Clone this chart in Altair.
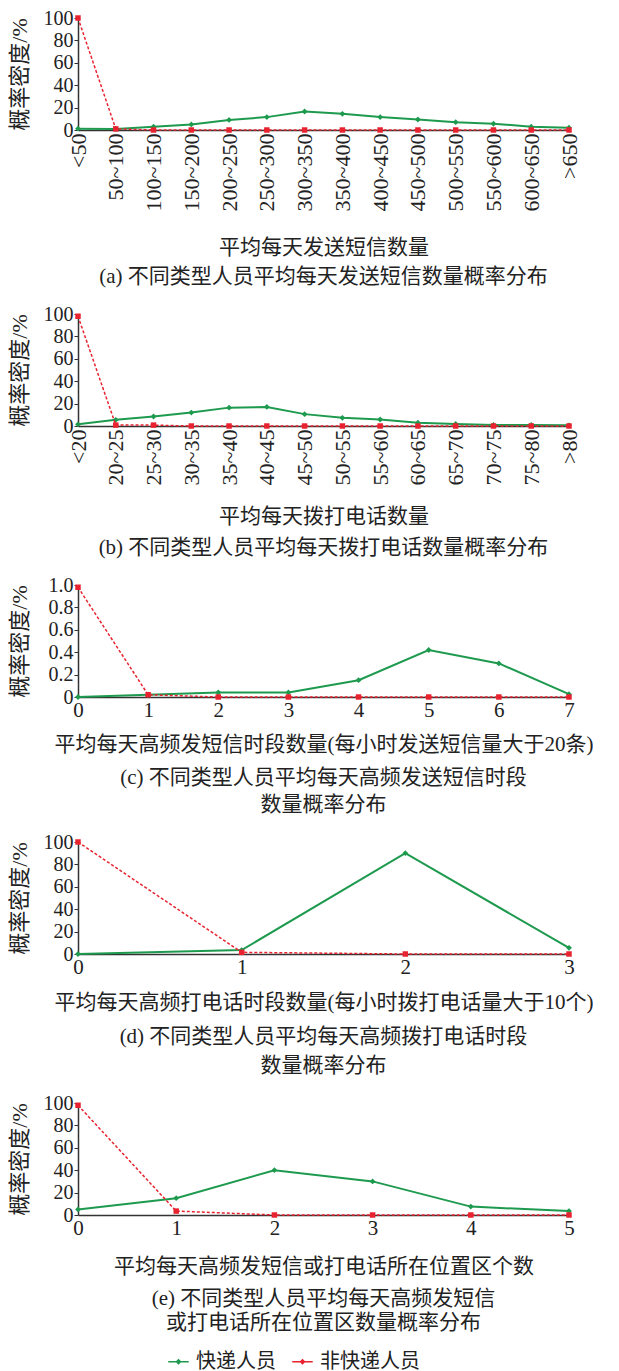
import altair as alt
import pandas as pd

SERIES = ["快递人员", "非快递人员"]
GREEN = "#1e9a4f"
RED = "#e8232f"
FONT = "Liberation Serif, Noto Sans CJK SC, serif"
TXT = "#222222"

# (a)
a_cats = ["<50", "50~100", "100~150", "150~200", "200~250", "250~300", "300~350",
          "350~400", "400~450", "450~500", "500~550", "550~600", "600~650", ">650"]
a_express = [1.2, 1.0, 3.0, 5.0, 9.0, 11.5, 16.5, 14.4, 11.5, 9.4, 7.0, 5.6, 3.0, 2.0]
a_other = [100, 1.0, 0, 0, 0, 0, 0, 0, 0, 0, 0, 0, 0, 0]

# (b)
b_cats = ["<20", "20~25", "25~30", "30~35", "35~40", "40~45", "45~50",
          "50~55", "55~60", "60~65", "65~70", "70~75", "75~80", ">80"]
b_express = [1.5, 5.5, 8.5, 12.0, 16.4, 17.0, 10.6, 7.3, 5.8, 3.0, 1.8, 1.0, 1.0, 0.6]
b_other = [98, 0.8, 0.8, 0, 0, 0, 0, 0, 0, 0, 0, 0, 0, 0]

# (c)
c_x = [0, 1, 2, 3, 4, 5, 6, 7]
c_express = [0.0, 0.02, 0.04, 0.04, 0.15, 0.42, 0.30, 0.025]
c_other = [0.98, 0.02, 0, 0, 0, 0, 0, 0]

# (d)
d_x = [0, 1, 2, 3]
d_express = [0.0, 3.5, 90.0, 5.5]
d_other = [100, 1.5, 0, 0]

# (e)
e_x = [0, 1, 2, 3, 4, 5]
e_express = [5.0, 15.0, 40.0, 30.0, 7.5, 3.5]
e_other = [98, 3.5, 0, 0, 0, 0]

y_pct = [0, 20, 40, 60, 80, 100]
y_frac = [0, 0.2, 0.4, 0.6, 0.8, 1.0]

titles_x = {
    "a": "平均每天发送短信数量",
    "b": "平均每天拨打电话数量",
    "c": "平均每天高频发短信时段数量(每小时发送短信量大于20条)",
    "d": "平均每天高频打电话时段数量(每小时拨打电话量大于10个)",
    "e": "平均每天高频发短信或打电话所在位置区个数",
}
captions = {
    "a": ["(a) 不同类型人员平均每天发送短信数量概率分布"],
    "b": ["(b) 不同类型人员平均每天拨打电话数量概率分布"],
    "c": ["(c) 不同类型人员平均每天高频发送短信时段", "数量概率分布"],
    "d": ["(d) 不同类型人员平均每天高频拨打电话时段", "数量概率分布"],
    "e": ["(e) 不同类型人员平均每天高频发短信", "或打电话所在位置区数量概率分布"],
}
# per-panel spacing tweaks: (x-title padding, caption offset, caption line height)
tweak = {
    "a": (26, 8, 26),
    "b": (21, 10, 26),
    "c": (13, 13, 27),
    "d": (14, 14, 29),
    "e": (17, 12, 24),
}

W = 491
H = 112
LEGEND_PATH = "M-1,-0.07H1V0.07H-1Z M0,-0.3L0.3,0L0,0.3L-0.3,0Z"

LEGEND = alt.Legend(orient="none", legendX=90, legendY=1333, direction="horizontal",
                    title=None, symbolType=LEGEND_PATH, symbolSize=420,
                    labelFontSize=20, labelFont=FONT, labelColor=TXT,
                    columnPadding=16, labelOffset=7, symbolStrokeWidth=0)


def make_df(xs, s1, s2):
    rows = []
    for x, v in zip(xs, s1):
        rows.append({"x": x, "v": v, "series": SERIES[0]})
    for x, v in zip(xs, s2):
        rows.append({"x": x, "v": v, "series": SERIES[1]})
    return pd.DataFrame(rows)


def y_axis(values, frac=False):
    kw = dict(
        values=values, title="概率密度/%", grid=False, tickSize=4, labelPadding=1,
        labelFontSize=20, titleFontSize=22, titleFontWeight="normal",
        titleX=-47, domainColor="#333333", tickColor="#333333", domainWidth=1.5,
    )
    if frac:
        kw["labelExpr"] = "datum.value == 0 ? '0' : format(datum.value, '.1f')"
    else:
        kw["format"] = "d"
    return alt.Axis(**kw)


def panel(key, df, cats=None, n=None, frac=False):
    tp, coff, lh = tweak[key]
    if cats is not None:
        x = alt.X("x:N", sort=cats, scale=alt.Scale(type="point", padding=0),
                  axis=alt.Axis(labelAngle=-90, labelFontSize=22, ticks=False, grid=False,
                                labelPadding=3, title=titles_x[key], titleFontSize=21,
                                titleFontWeight="normal", titlePadding=tp,
                                domainColor="#333333", domainWidth=1.5))
    else:
        x = alt.X("x:Q", scale=alt.Scale(domain=[0, n], nice=False),
                  axis=alt.Axis(values=list(range(n + 1)), format="d", ticks=False, grid=False,
                                labelFlush=False, labelPadding=2, labelFontSize=21,
                                title=titles_x[key], titleFontSize=21,
                                titleFontWeight="normal", titlePadding=tp,
                                domainColor="#333333", domainWidth=1.5))
    ydom = [0, 1.0] if frac else [0, 100]
    y = alt.Y("v:Q", scale=alt.Scale(domain=ydom, nice=False),
              axis=y_axis(y_frac if frac else y_pct, frac))
    base = alt.Chart(df)
    green = base.transform_filter(alt.datum.series == SERIES[0])
    red = base.transform_filter(alt.datum.series == SERIES[1])
    line_g = green.mark_line(color=GREEN, strokeWidth=2).encode(x=x, y=y)
    line_r = red.mark_line(color=RED, strokeWidth=1.5, strokeDash=[3, 2]).encode(x=x, y=y)
    pts_g = green.mark_point(filled=True, size=34, opacity=1).encode(
        x=x, y=y,
        color=alt.Color("series:N", scale=alt.Scale(domain=SERIES, range=[GREEN, RED]), legend=LEGEND),
        shape=alt.value("diamond"),
    )
    pts_r = red.mark_square(size=30, color=RED, opacity=1).encode(x=x, y=y)
    return alt.layer(line_g, pts_g, line_r, pts_r).properties(
        width=W, height=H,
        title=alt.TitleParams(text=captions[key], orient="bottom", anchor="middle",
                              frame="group", fontSize=21, fontWeight="normal",
                              lineHeight=lh, offset=coff, color=TXT, font=FONT),
    )


pa = panel("a", make_df(a_cats, a_express, a_other), cats=a_cats)
pb = panel("b", make_df(b_cats, b_express, b_other), cats=b_cats)
pc = panel("c", make_df(c_x, c_express, c_other), n=7, frac=True)
pd_ = panel("d", make_df(d_x, d_express, d_other), n=3)
pe = panel("e", make_df(e_x, e_express, e_other), n=5)

chart = alt.vconcat(pa, pb, pc, pd_, pe, spacing=17).properties(
    padding={"left": 0, "top": 0, "right": 0, "bottom": 0}
).configure(font=FONT).configure_view(stroke=None).configure_axis(
    labelColor=TXT, titleColor=TXT, labelFont=FONT, titleFont=FONT, grid=False
)

chart.save("out.html", embed_options={"renderer": "svg", "actions": False})
